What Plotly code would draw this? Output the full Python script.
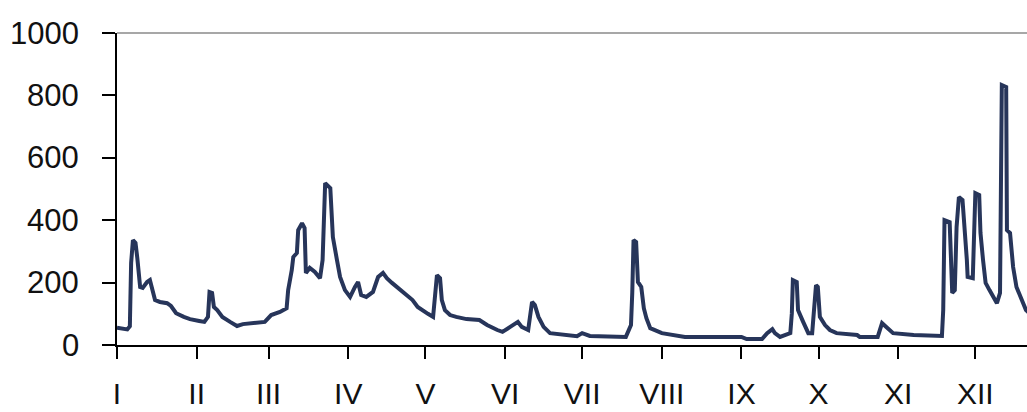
import plotly.graph_objects as go

# ---------- Data ----------
# day of year (0 = 1 Jan) and value
DAYS = [0, 4, 5, 5.5, 6.2, 7.2, 7.9, 9, 10, 11.7, 12.8, 13.5, 14.8, 16.7, 19.5, 21, 23, 26, 28.4,
        32, 34, 35.4, 36, 37, 37.7, 39, 41, 44, 46.7, 49, 54.5, 57.5, 60, 63.4, 66, 66.6, 68, 68.6,
        70, 70.5, 72, 73, 73.5, 75, 77, 79, 80, 81, 83, 84, 85.6, 86.8, 88.7, 90.7, 92.6, 93.8,
        95, 97, 99.6, 101.6, 103.5, 105, 107, 109.5, 112, 115, 117, 119, 121, 123, 123.7, 124.5,
        125.7, 126.4, 127.6, 129.6, 132, 136, 141, 144, 148, 150, 153, 156, 157.5, 160, 161.5,
        162.6, 164, 166, 168.5, 172, 177, 179, 181, 184, 198, 200, 200.5, 201, 202, 202.7, 204,
        205, 206, 207.5, 212, 218, 221, 243, 245, 251, 253, 255, 256, 258, 262, 262.6, 263, 264.5,
        265, 267, 269, 270.5, 271, 272, 272.7, 273.5, 275.5, 277.4, 280, 288, 289, 296, 297.7,
        299.6, 302, 310, 316, 321, 321.5, 322, 324, 325, 326, 326.7, 327.6, 329, 330.7, 331, 333,
        334, 335.5, 336, 337, 338, 339.5, 341, 342.4, 343.6, 344.3, 346, 346.3, 347.5, 348.7,
        350, 352, 353.7, 358, 364]
VALUES = [55, 50, 60, 263, 336, 327, 279, 186, 183, 202, 208, 186, 144, 138, 134, 125, 102, 90, 83,
          77, 74, 90, 170, 167, 122, 112, 90, 74, 61, 67, 70, 74, 96, 106, 118, 176, 240, 282,
          295, 368, 390, 375, 231, 247, 234, 214, 272, 519, 503, 346, 272, 218, 176, 154, 186, 202,
          160, 154, 170, 218, 231, 214, 199, 183, 167, 144, 122, 110, 100, 90, 144, 224,
          214, 144, 112, 96, 90, 83, 80, 64, 48, 42, 58, 74, 58, 48, 138,
          128, 90, 58, 38, 35, 32, 28, 38, 29, 26, 64, 167, 336, 330, 202, 186,
          118, 86, 54, 38, 32, 26, 26, 19, 19, 38, 51, 38, 26, 38, 102, 208, 202,
          112, 74, 38, 38, 90, 192, 186, 90, 64, 48, 38, 32, 26, 26, 70,
          54, 38, 32, 29, 29, 112, 400, 394, 167, 176, 378, 474, 465, 272, 218, 214,
          487, 481, 359, 272, 199, 176, 154, 134, 167, 833, 827, 368, 359, 250,
          186, 144, 112, 80, 60]

MONTH_START = [0, 31, 59, 90, 120, 151, 181, 212, 243, 273, 304, 334]
MONTH_LABELS = ["I", "II", "III", "IV", "V", "VI", "VII", "VIII", "IX", "X", "XI", "XII"]
Y_TICKS = [0, 200, 400, 600, 800, 1000]

FONT = "Liberation Sans, Arial, sans-serif"

fig = go.Figure()
fig.add_trace(go.Scatter(x=DAYS, y=VALUES, mode="lines",
                         line=dict(color="#27355a", width=4),
                         showlegend=False, hoverinfo="skip"))

# grey frame line along the top of the plot area
fig.add_shape(type="line", xref="paper", yref="paper", x0=0, x1=1, y0=1, y1=1,
              line=dict(color="#8a8a8a", width=1.5))

# y tick labels sit further from the axis than plotly puts them -> annotations
for v in Y_TICKS:
    fig.add_annotation(x=0, xref="paper", y=v, yref="y", text=str(v),
                       showarrow=False, xanchor="right", yanchor="middle",
                       xshift=-36, font=dict(size=31, color="#111111"))

fig.update_layout(
    template="none",
    width=1027, height=412,
    margin=dict(l=117, r=0, t=33, b=67, pad=0),
    paper_bgcolor="white", plot_bgcolor="white",
    font=dict(family=FONT, size=31, color="#111111"),
)
fig.update_xaxes(range=[0, 354.1], tickmode="array",
                 tickvals=MONTH_START, ticktext=MONTH_LABELS,
                 ticks="outside", ticklen=12, tickwidth=2, tickcolor="black",
                 showline=True, linecolor="black", linewidth=2,
                 showgrid=False, zeroline=False, automargin=False,
                 ticklabelstandoff=9, tickfont=dict(size=30))
fig.update_yaxes(range=[0, 1000], tickmode="array", tickvals=Y_TICKS,
                 showticklabels=False,
                 ticks="outside", ticklen=13, tickwidth=2, tickcolor="black",
                 showline=True, linecolor="black", linewidth=2,
                 showgrid=False, zeroline=False, automargin=False)

# page body has an 8px default margin; drop it so the figure fills the window
fig.write_html("out.html", config={"displayModeBar": False},
               post_script="document.body.style.margin='0';")
